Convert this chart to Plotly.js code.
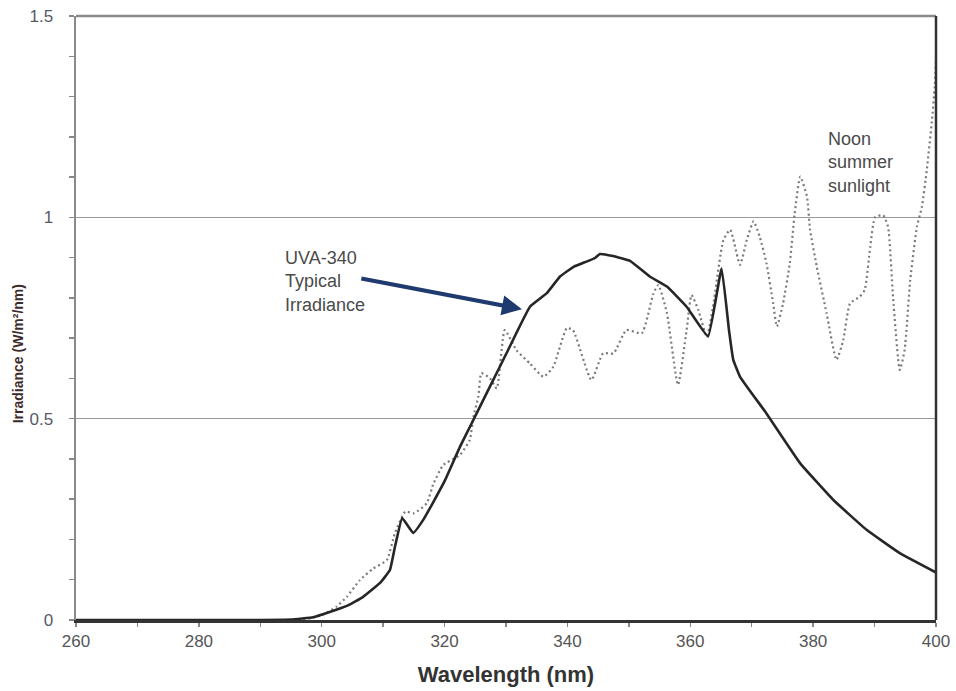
<!DOCTYPE html>
<html>
<head>
<meta charset="utf-8">
<script src="https://cdn.plot.ly/plotly-3.0.1.min.js"></script>
<style>
  html, body { margin: 0; padding: 0; background: #ffffff; }
  #chart { width: 956px; height: 691px; }
</style>
</head>
<body>
<div id="chart"></div>
<script>
// UVA-340 lamp typical irradiance (solid line)
const uvaWavelength = [260, 280, 290, 295, 298.6, 301.3, 304.1, 306.7, 309.5, 311.1, 311.9, 313.1, 314.9, 316.5, 318.1, 320.1, 322.5, 324.4, 327.4, 330.1, 333.9, 336.6, 338.8, 341.0, 343.1, 344.5, 345.3, 347.4, 350.2, 353.4, 356.2, 359.4, 362.9, 365.1, 366.3, 367.0, 368.1, 372.4, 377.9, 383.3, 388.7, 394.1, 400];
const uvaIrradiance = [0, 0, 0, 0.001, 0.007, 0.02, 0.035, 0.057, 0.092, 0.124, 0.18, 0.253, 0.216, 0.248, 0.291, 0.348, 0.43, 0.488, 0.58, 0.663, 0.778, 0.811, 0.853, 0.877, 0.89, 0.899, 0.909, 0.904, 0.892, 0.853, 0.828, 0.778, 0.704, 0.873, 0.72, 0.646, 0.604, 0.513, 0.389, 0.298, 0.224, 0.166, 0.118];

// Noon summer sunlight (dotted line)
const sunWavelength = [297, 300, 302.4, 304.1, 306.2, 308.4, 310.6, 311.9, 313.6, 315.0, 317.1, 318.2, 319.8, 322.5, 324.1, 324.7, 325.5, 326.0, 327.4, 328.5, 329.8, 331.7, 333.9, 336.1, 337.7, 339.9, 340.9, 343.9, 345.8, 347.5, 349.6, 352.1, 354.0, 354.8, 356.2, 358.0, 359.4, 360.2, 361.3, 362.7, 363.7, 365.4, 366.5, 368.1, 369.2, 370.3, 371.3, 372.4, 373.5, 374.1, 375.1, 376.2, 377.0, 377.9, 379.0, 379.5, 380.6, 382.2, 383.8, 384.9, 386.0, 387.6, 388.4, 389.3, 390.1, 391.4, 392.2, 393.0, 394.1, 394.9, 395.8, 396.9, 397.7, 398.5, 399.3, 399.8, 400];
const sunIrradiance = [0, 0.012, 0.033, 0.058, 0.099, 0.128, 0.149, 0.215, 0.269, 0.265, 0.29, 0.339, 0.385, 0.41, 0.447, 0.505, 0.555, 0.613, 0.6, 0.575, 0.72, 0.67, 0.637, 0.604, 0.629, 0.725, 0.72, 0.596, 0.662, 0.662, 0.72, 0.712, 0.811, 0.832, 0.762, 0.584, 0.72, 0.807, 0.77, 0.704, 0.778, 0.944, 0.969, 0.882, 0.944, 0.99, 0.952, 0.886, 0.786, 0.729, 0.786, 0.886, 1.01, 1.101, 1.051, 0.969, 0.877, 0.761, 0.646, 0.695, 0.786, 0.803, 0.82, 0.927, 1.001, 1.005, 0.976, 0.803, 0.621, 0.671, 0.844, 0.977, 1.026, 1.118, 1.234, 1.325, 1.39];

// Axis labels
const xTitle = 'Wavelength (nm)';
const yTitle = 'Irradiance (W/m²/nm)';
const uvaLabel = 'UVA-340<br>Typical<br>Irradiance';
const sunLabel = 'Noon<br>summer<br>sunlight';
// arrow: tail and head points (nm, W/m²/nm)
const arrowTail = [306.2, 0.849];
const arrowHead = [332.6, 0.772];

const FONT = '"Liberation Sans", Arial, sans-serif';

const traces = [
  {
    x: sunWavelength, y: sunIrradiance, type: 'scatter', mode: 'lines',
    name: 'Noon summer sunlight',
    line: { color: '#7a7a7a', width: 2.2, dash: '2px,3px', shape: 'spline', smoothing: 0.5 },
    hoverinfo: 'x+y'
  },
  {
    x: uvaWavelength, y: uvaIrradiance, type: 'scatter', mode: 'lines',
    name: 'UVA-340 Typical Irradiance',
    line: { color: '#262626', width: 2.6, shape: 'spline', smoothing: 0.3 },
    hoverinfo: 'x+y'
  }
];

const layout = {
  width: 956, height: 691,
  margin: { l: 76, r: 20, t: 16, b: 71 },
  paper_bgcolor: '#ffffff', plot_bgcolor: '#ffffff',
  showlegend: false,
  font: { family: FONT, color: '#4a4a4a' },
  xaxis: {
    range: [260, 400], dtick: 20, tick0: 260,
    ticks: 'outside', ticklen: 4, tickcolor: '#888', tickwidth: 1.5,
    minor: { dtick: 10, ticks: 'outside', ticklen: 4, tickcolor: '#888', tickwidth: 1.5, showgrid: false },
    showgrid: false, zeroline: false,
    showline: true, linecolor: '#333', linewidth: 2.5,
    tickfont: { size: 17, color: '#555', family: FONT },
    title: { text: '<b>' + xTitle + '</b>', font: { size: 22, color: '#333', family: FONT }, standoff: 17 }
  },
  yaxis: {
    range: [0, 1.5], dtick: 0.5, tick0: 0,
    ticks: 'outside', ticklen: 5, tickcolor: '#888', tickwidth: 1.5,
    minor: { dtick: 0.1, ticks: 'outside', ticklen: 5, tickcolor: '#888', tickwidth: 1.5, showgrid: false },
    showgrid: true, gridcolor: '#9a9a9a', gridwidth: 1.6,
    zeroline: false,
    showline: true, linecolor: '#8a8a8a', linewidth: 2.5,
    ticklabelstandoff: 12,
    tickfont: { size: 17, color: '#555a66', family: FONT }
  },
  shapes: [
    { type: 'line', xref: 'paper', yref: 'paper', x0: 0, x1: 1, y0: 1, y1: 1, line: { color: '#8a8a8a', width: 2.5 } },
    { type: 'line', xref: 'paper', yref: 'paper', x0: 1, x1: 1, y0: 0, y1: 1, line: { color: '#333', width: 2.5 } }
  ],
  annotations: [
    {
      text: '<b>' + yTitle + '</b>', xref: 'paper', yref: 'paper',
      x: -0.0674, y: 0.44, xanchor: 'center', yanchor: 'middle', textangle: -90,
      showarrow: false, font: { size: 14, color: '#3d2b2b', family: FONT }
    },
    {
      text: uvaLabel, xref: 'paper', yref: 'paper', x: 0.2407, y: 0.619,
      xanchor: 'left', yanchor: 'top', align: 'left', showarrow: false,
      font: { size: 18, color: '#4a4a4a', family: FONT }
    },
    {
      text: sunLabel, xref: 'paper', yref: 'paper', x: 0.872, y: 0.816,
      xanchor: 'left', yanchor: 'top', align: 'left', showarrow: false,
      font: { size: 18, color: '#4a4a4a', family: FONT }
    },
    {
      text: '', x: arrowHead[0], y: arrowHead[1], xref: 'x', yref: 'y',
      ax: arrowTail[0], ay: arrowTail[1], axref: 'x', ayref: 'y',
      showarrow: true, arrowhead: 2, arrowsize: 1, arrowwidth: 4, arrowcolor: '#1f3a6e'
    }
  ]
};

Plotly.newPlot('chart', traces, layout, { displayModeBar: false, staticPlot: true });
</script>
</body>
</html>
